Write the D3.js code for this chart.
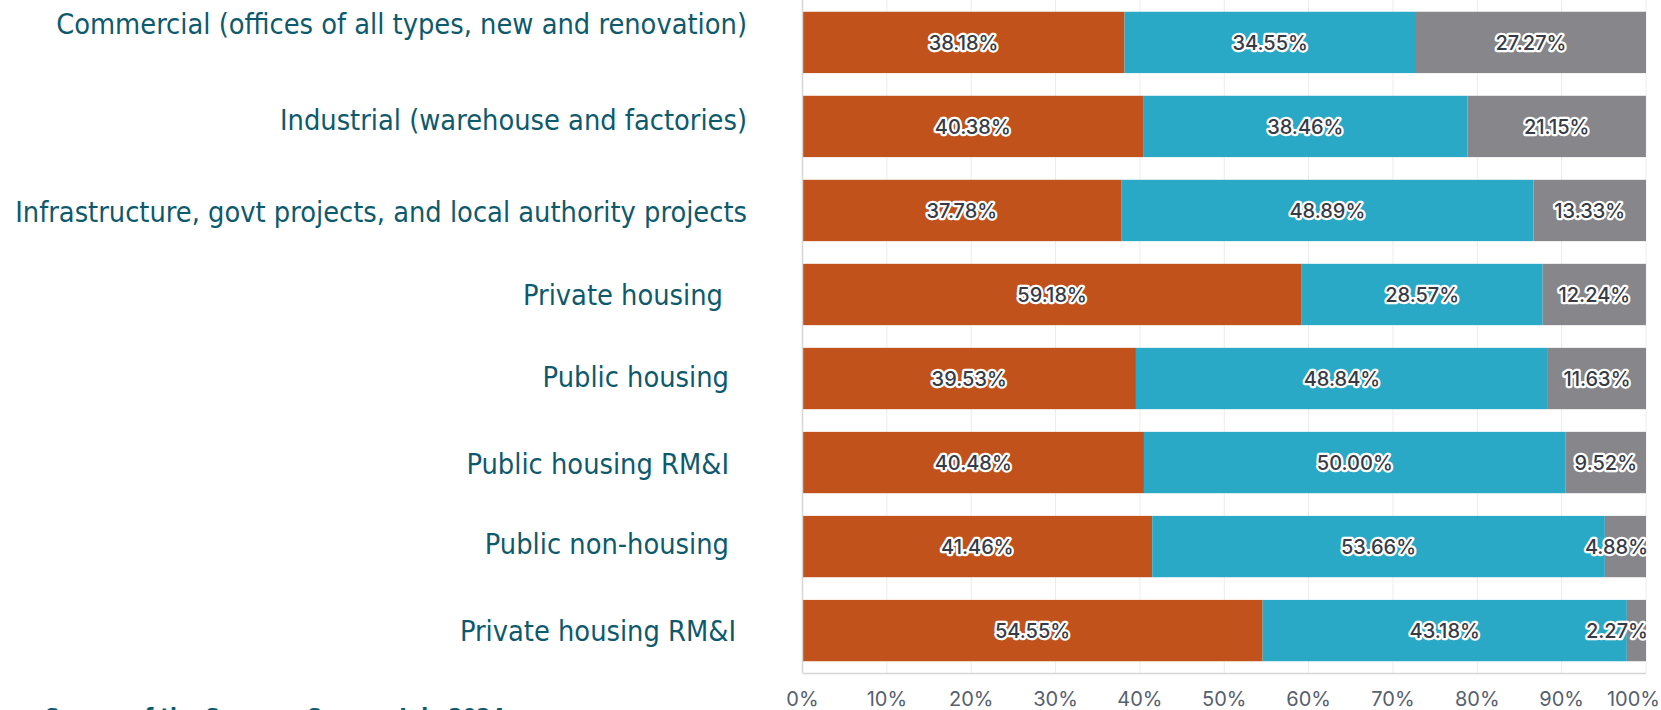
<!DOCTYPE html>
<html>
<head>
<meta charset="utf-8">
<script src="https://cdn.jsdelivr.net/npm/d3@7"></script>
<style>
  html, body { margin: 0; padding: 0; background: #fff; overflow: hidden; }
  svg { display: block; }
</style>
</head>
<body>
<svg id="chart" width="1661" height="710"></svg>
<script>
// categories top to bottom
const categories = [
  "Commercial (offices of all types, new and renovation)",
  "Industrial (warehouse and factories)",
  "Infrastructure, govt projects, and local authority projects",
  "Private housing",
  "Public housing",
  "Public housing RM&I",
  "Public non-housing",
  "Private housing RM&I"
];
const seriesA = [38.18, 40.38, 37.78, 59.18, 39.53, 40.48, 41.46, 54.55];
const seriesB = [34.55, 38.46, 48.89, 28.57, 48.84, 50.00, 53.66, 43.18];
const seriesC = [27.27, 21.15, 13.33, 12.24, 11.63, 9.52, 4.88, 2.27];
const tickValues = [0, 10, 20, 30, 40, 50, 60, 70, 80, 90, 100];
const sourceNote = "Source of the Summer Survey, July 2024";

const colors = ["#c1521b", "#29a9c5", "#87878b"];
// small offsets of the category labels, as they sit in the original
const labelNudge = [[0, -18], [0, -6], [0, 1], [-24, 0], [-18, -2], [-18, 1], [-18, -3], [-11, 0]];

const svg = d3.select("#chart");
const plotL = 802.5, plotR = 1646, plotT = 0, plotB = 673;

const x = d3.scaleLinear().domain([0, 100]).range([plotL, plotR]);
const y = d3.scaleBand().domain(categories).range([plotT, plotB]).paddingInner(0.27).paddingOuter(0.14);

// grid
svg.append("g").selectAll("line")
  .data(tickValues.slice(1))
  .join("line")
  .attr("x1", d => x(d)).attr("x2", d => x(d))
  .attr("y1", plotT).attr("y2", plotB)
  .attr("stroke", "#ececec").attr("stroke-width", 1);

const rows = categories.map((c, i) => {
  const vals = [seriesA[i], seriesB[i], seriesC[i]];
  let acc = 0;
  return vals.map((v, k) => { const s = acc; acc += v; return {cat: c, k, v, x0: s, x1: acc}; });
});

const segs = rows.flat();

svg.append("g").selectAll("rect")
  .data(segs)
  .join("rect")
  .attr("x", d => x(d.x0))
  .attr("width", d => x(Math.min(d.x1, 100)) - x(d.x0))
  .attr("y", d => y(d.cat))
  .attr("height", y.bandwidth())
  .attr("fill", d => colors[d.k]);

// axes lines
svg.append("line").attr("x1", plotL).attr("x2", plotR).attr("y1", plotB + 0.5).attr("y2", plotB + 0.5)
  .attr("stroke", "#d6d6d6").attr("stroke-width", 1.5);
svg.append("line").attr("x1", plotL).attr("x2", plotL).attr("y1", plotT).attr("y2", plotB)
  .attr("stroke", "#d6d6d6").attr("stroke-width", 1.5);

// value labels
const vl = svg.append("g").selectAll("text")
  .data(segs)
  .join("text")
  .attr("y", d => y(d.cat) + y.bandwidth() / 2)
  .attr("dy", "0.36em")
  .attr("text-anchor", "middle")
  .style("font-family", "Inter, 'Noto Sans', sans-serif")
  .style("font-size", "20px")
  .style("font-weight", 500)
  .attr("fill", "#363b46")
  .attr("stroke", "#fff")
  .attr("stroke-width", 4.5)
  .attr("stroke-linejoin", "round")
  .attr("paint-order", "stroke")
  .text(d => d.v.toFixed(2) + "%");

vl.each(function(d) {
  const w = this.getComputedTextLength();
  let cx = (x(d.x0) + x(d.x1)) / 2;
  cx = Math.min(cx, plotR + 2 - w / 2);
  d3.select(this).attr("x", cx);
});

// x tick labels
const tl = svg.append("g").selectAll("text")
  .data(tickValues)
  .join("text")
  .attr("y", 706)
  .attr("text-anchor", "middle")
  .style("font-family", "Inter, 'Noto Sans', sans-serif")
  .style("font-size", "20px")
  .attr("fill", "#56606e")
  .text(d => d + "%");

tl.each(function(d) {
  const w = this.getComputedTextLength();
  d3.select(this).attr("x", Math.min(x(d), 1660 - w / 2));
});

// category labels
svg.append("g").selectAll("text")
  .data(categories)
  .join("text")
  .attr("x", (d, i) => 747 + labelNudge[i][0])
  .attr("y", (d, i) => y(d) + y.bandwidth() / 2 + labelNudge[i][1])
  .attr("dy", "0.35em")
  .attr("text-anchor", "end")
  .style("font-family", "'DejaVu Sans Condensed', 'DejaVu Sans', sans-serif")
  .style("font-size", "28.7px")
  .attr("fill", "#0e5a6c")
  .text(d => d);

// source note, cut by the bottom edge as in the original
svg.append("text")
  .attr("x", 45)
  .attr("y", 725)
  .style("font-family", "'DejaVu Sans Condensed', 'DejaVu Sans', sans-serif")
  .style("font-size", "22.5px")
  .style("font-weight", "bold")
  .attr("fill", "#0e5a6c")
  .text(sourceNote);
</script>
</body>
</html>
